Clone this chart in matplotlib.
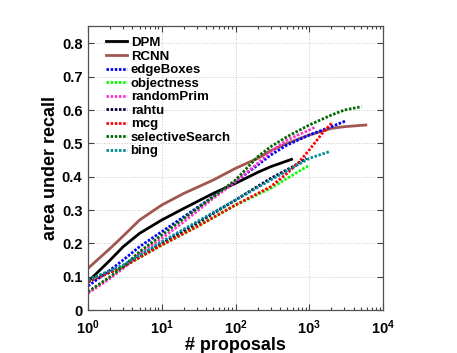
import math
import matplotlib
matplotlib.use('Agg')
import matplotlib.pyplot as plt
from matplotlib.ticker import FixedLocator, FuncFormatter, LogLocator, NullFormatter

plt.rcParams['font.family'] = 'Liberation Sans'
plt.rcParams['font.weight'] = 'bold'
plt.rcParams['mathtext.fontset'] = 'custom'
plt.rcParams['mathtext.rm'] = 'Liberation Sans:bold'
plt.rcParams['mathtext.bf'] = 'Liberation Sans:bold'

#  ----------------- data
#
dpm_x = [1, 2, 3, 5, 10, 20, 50, 100, 200, 300, 575]
dpm_y = [0.085, 0.15, 0.19, 0.23, 0.27, 0.305, 0.35, 0.38, 0.413, 0.43, 0.452]

rcnn_x = [1, 2, 3, 5, 10, 20, 50, 100, 200, 300, 500, 1000, 2000, 3000, 5850]
rcnn_y = [0.125, 0.185, 0.222, 0.27, 0.315, 0.35, 0.39, 0.425, 0.455, 0.478, 0.5, 0.525, 0.545, 0.55, 0.555]

edge_x = [1, 2, 3, 5, 10, 20, 50, 100, 200, 300, 500, 1000, 2000, 3100]
edge_y = [0.072, 0.12, 0.15, 0.19, 0.235, 0.28, 0.34, 0.385, 0.435, 0.465, 0.495, 0.525, 0.55, 0.567]

obj_x = [1, 3, 10, 30, 100, 300, 500, 960]
obj_y = [0.09, 0.13, 0.195, 0.25, 0.315, 0.365, 0.395, 0.432]

rp_x = [1, 2, 3, 5, 10, 20, 50, 100, 200, 300, 500, 1000, 1230]
rp_y = [0.05, 0.095, 0.125, 0.17, 0.215, 0.265, 0.335, 0.385, 0.44, 0.475, 0.51, 0.54, 0.55]

rahtu_x = [1, 3, 10, 30, 100, 300, 600, 920]
rahtu_y = [0.085, 0.13, 0.2, 0.26, 0.33, 0.395, 0.43, 0.455]

mcg_x = [1, 3, 10, 30, 100, 300, 500, 700, 1000, 1500, 2000]
mcg_y = [0.085, 0.13, 0.195, 0.25, 0.315, 0.37, 0.41, 0.44, 0.48, 0.53, 0.56]

ss_x = [1, 2, 3, 5, 10, 20, 50, 100, 200, 300, 500, 1000, 2000, 3000, 5100]
ss_y = [0.055, 0.1, 0.13, 0.175, 0.225, 0.275, 0.34, 0.39, 0.46, 0.49, 0.52, 0.555, 0.585, 0.6, 0.61]

bing_x = [1, 3, 10, 30, 100, 300, 1000, 1870]
bing_y = [0.09, 0.135, 0.205, 0.265, 0.33, 0.39, 0.455, 0.475]

#  ----------------- plotting
#
fig = plt.figure(figsize=(4.57, 3.53), dpi=100)
ax = fig.add_axes([0.1926, 0.1218, 0.6455, 0.8045])

ax.plot(dpm_x, dpm_y, '-', color='black', lw=2.0, label='DPM')
ax.plot(rcnn_x, rcnn_y, '-', color='#a0574f', lw=2.0, label='RCNN')

dotted = [('edgeBoxes', edge_x, edge_y, '#0000ff'),
          ('objectness', obj_x, obj_y, '#00ff00'),
          ('randomPrim', rp_x, rp_y, '#ff33cc'),
          ('rahtu', rahtu_x, rahtu_y, '#000033'),
          ('mcg', mcg_x, mcg_y, '#ff0000'),
          ('selectiveSearch', ss_x, ss_y, '#006600'),
          ('bing', bing_x, bing_y, '#008b9b')]
for name, xs, ys, c in dotted:
	ln, = ax.plot(xs, ys, color=c, lw=2.0, label=name)
	ln.set_dashes([0.9, 0.6])
	ln.set_dash_capstyle('butt')

ax.set_xscale('log')
ax.set_xlim(1, 1e4)
ax.set_ylim(0, 0.852)

ax.xaxis.set_major_locator(FixedLocator([1, 10, 100, 1000, 10000]))
ax.xaxis.set_major_formatter(FuncFormatter(lambda v, p: r'$\mathbf{10^{%d}}$' % round(math.log10(v))))
ax.xaxis.set_minor_locator(LogLocator(base=10, subs=range(2, 10)))
ax.xaxis.set_minor_formatter(NullFormatter())
ax.yaxis.set_major_locator(FixedLocator([0, 0.1, 0.2, 0.3, 0.4, 0.5, 0.6, 0.7, 0.8]))
ax.yaxis.set_major_formatter(FuncFormatter(lambda v, p: '%g' % round(v, 1)))

ax.tick_params(which='both', direction='in', top=True, right=True, color='#404040', width=0.8)
ax.tick_params(which='major', length=4, labelsize=10.5)
ax.tick_params(axis='x', which='major', pad=6)
ax.tick_params(axis='y', which='major', pad=4)
ax.tick_params(which='minor', length=2.5)
for lab in ax.get_yticklabels():
	lab.set_fontweight('bold')
for s in ax.spines.values():
	s.set_color('#505050')
	s.set_linewidth(0.9)

ax.grid(True, which='major', linestyle=':', color='#c8c8c8', lw=0.7)

ax.set_xlabel('# proposals', fontsize=13, fontweight='bold', labelpad=0)
ax.set_ylabel('area under recall', fontsize=13, fontweight='bold', labelpad=2)

leg = ax.legend(loc='upper left', bbox_to_anchor=(0.035, 0.99), frameon=False,
                fontsize=9.5, handlelength=1.6, handletextpad=0.25, labelspacing=0.1,
                borderaxespad=0.2)
for t in leg.get_texts():
	t.set_fontweight('bold')

fig.savefig('out.png', dpi=100)
